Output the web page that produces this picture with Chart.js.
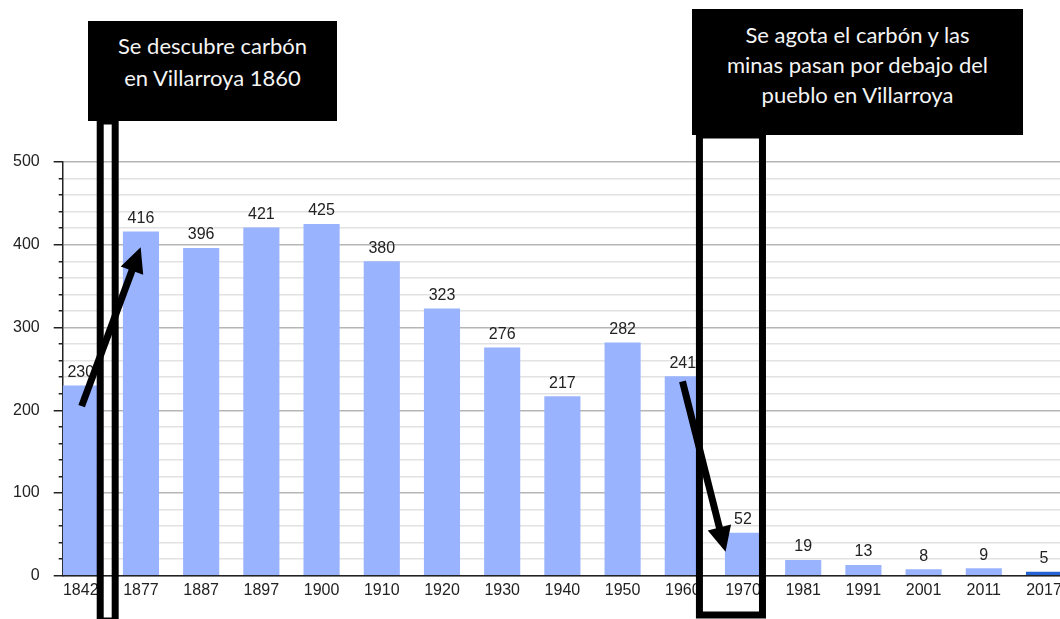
<!DOCTYPE html>
<html lang="es">
<head>
<meta charset="UTF-8">
<title>Villarroya - población</title>
<script src="https://cdn.jsdelivr.net/npm/chart.js"></script>
<style>
  body { margin: 0; overflow: hidden; background: #fff; }
  #wrap { position: relative; width: 1100px; height: 619px; }
  .note {
    position: absolute;
    background: #000;
    color: #f4f4f4;
    font-family: Lato, "Open Sans", sans-serif;
    font-size: 22px;
    text-align: center;
    box-sizing: border-box;
  }
  #note1 { left: 88px; top: 21px; width: 249px; height: 100px; line-height: 32px; padding-top: 9px; }
  #note2 { left: 692px; top: 9px; width: 331px; height: 126px; line-height: 30px; padding-top: 11px; }
</style>
</head>
<body>
<div id="wrap">
  <canvas id="chart" width="1100" height="619"></canvas>
  <div class="note" id="note1">Se descubre carbón<br>en Villarroya 1860</div>
  <div class="note" id="note2">Se agota el carbón y las<br>minas pasan por debajo del<br>pueblo en Villarroya</div>
</div>

<script>
  const years = ['1842', '1877', '1887', '1897', '1900', '1910', '1920', '1930', '1940', '1950', '1960', '1970', '1981', '1991', '2001', '2011', '2017'];
  const population = [230, 416, 396, 421, 425, 380, 323, 276, 217, 282, 241, 52, 19, 13, 8, 9, 5];
  const yTicks = [0, 100, 200, 300, 400, 500];

  const barColor = '#99b3ff';
  const lastColor = '#2563d4';

  // value labels over each bar
  const valueLabels = {
    id: 'valueLabels',
    afterDatasetsDraw(chart) {
      const ctx = chart.ctx;
      const meta = chart.getDatasetMeta(0);
      ctx.save();
      ctx.font = '16px "Liberation Sans", Arial, sans-serif';
      ctx.fillStyle = '#222';
      ctx.textAlign = 'center';
      ctx.textBaseline = 'bottom';
      meta.data.forEach((bar, i) => {
        ctx.fillText(String(population[i]), bar.x, bar.y - 5);
      });
      ctx.restore();
    }
  };

  function arrow(ctx, x1, y1, x2, y2) {
    const a = Math.atan2(y2 - y1, x2 - x1);
    const head = 25, hw = 12;
    const bx = x2 - head * Math.cos(a), by = y2 - head * Math.sin(a);
    ctx.lineWidth = 7;
    ctx.lineCap = 'butt';
    ctx.beginPath();
    ctx.moveTo(x1, y1);
    ctx.lineTo(bx + Math.cos(a), by + Math.sin(a));
    ctx.stroke();
    ctx.beginPath();
    ctx.moveTo(x2, y2);
    ctx.lineTo(bx + hw * Math.sin(a), by - hw * Math.cos(a));
    ctx.lineTo(bx - hw * Math.sin(a), by + hw * Math.cos(a));
    ctx.closePath();
    ctx.fill();
  }

  // black frames and arrows drawn over the chart
  const marks = {
    id: 'marks',
    afterDraw(chart) {
      const { ctx, scales: { x, y } } = chart;
      ctx.save();
      ctx.strokeStyle = '#000';
      ctx.fillStyle = '#000';
      ctx.lineWidth = 7;
      // frame under first note
      let l = x.getPixelForValue(0.265), r = x.getPixelForValue(0.63);
      ctx.strokeRect(l + 3.5, 121, r - l - 7, 500);
      // frame under second note
      l = x.getPixelForValue(10.21); r = x.getPixelForValue(11.39);
      ctx.strokeRect(l + 4, 135, r - l - 8, 480);
      arrow(ctx, x.getPixelForValue(0.015), y.getPixelForValue(205), x.getPixelForValue(0.995), y.getPixelForValue(397));
      arrow(ctx, x.getPixelForValue(9.995), y.getPixelForValue(235), x.getPixelForValue(10.71), y.getPixelForValue(29));
      ctx.restore();
    }
  };

  new Chart(document.getElementById('chart'), {
    type: 'bar',
    data: {
      datasets: [{
        data: population.map((v, i) => ({ x: i, y: v })),
        backgroundColor: population.map((v, i) => i === population.length - 1 ? lastColor : barColor),
        borderWidth: 0,
        barPercentage: 0.6,
        categoryPercentage: 1
      }]
    },
    options: {
      responsive: false,
      animation: false,
      layout: { padding: { left: -1, top: 162, right: 0, bottom: 14 } },
      plugins: { legend: { display: false }, tooltip: { enabled: false } },
      scales: {
        x: {
          type: 'linear',
          offset: false,
          min: -0.3,
          max: 16.93,
          afterBuildTicks: s => { s.ticks = years.map((yr, i) => ({ value: i })); },
          ticks: {
            autoSkip: false,
            maxRotation: 0,
            padding: 5,
            color: '#222',
            font: { family: '"Liberation Sans", Arial, sans-serif', size: 16 },
            callback: v => years[v]
          },
          grid: { display: false, drawTicks: false, offset: false },
          border: { color: '#222', width: 1.5 }
        },
        y: {
          min: 0,
          max: 500,
          ticks: {
            stepSize: 20,
            autoSkip: false,
            padding: 14,
            color: '#222',
            font: { family: '"Liberation Sans", Arial, sans-serif', size: 16 },
            callback: v => yTicks.includes(v) ? String(v) : ''
          },
          grid: {
            color: c => c.tick.value % 100 === 0 ? '#b5b5b5' : '#e2e2e2',
            lineWidth: 1.5,
            tickLength: 9,
            tickColor: '#222',
            tickWidth: 1.5,
            tickBorderDash: c => c.tick.value % 100 === 0 ? [] : [0, 5, 5, 100]
          },
          border: { color: '#222', width: 1.5 }
        }
      }
    },
    plugins: [valueLabels, marks]
  });
</script>
</body>
</html>
